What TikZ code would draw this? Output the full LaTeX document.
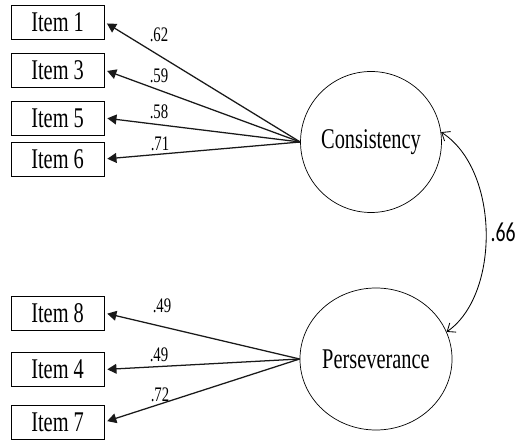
\documentclass[tikz,border=0pt]{standalone}
\usepackage{fontspec}
\setmainfont{Liberation Serif}
\newfontfamily\corrfont{Carlito}
\usepackage{graphicx}
\usepackage{tikz}
\usetikzlibrary{shapes.geometric, arrows.meta}
\newcommand{\stretchtxt}[1]{\scalebox{1}[1.4]{#1}}

\begin{document}
\begin{tikzpicture}[
    item/.style={draw, line width=0.6pt, minimum width=2.325cm, minimum height=0.85cm, inner sep=0pt, font=\fontsize{14.5}{16}\selectfont},
    factor/.style={draw, ellipse, line width=0.5pt, inner sep=0pt, font=\fontsize{14.5}{16}\selectfont},
    load/.style={-{Triangle[length=6.5pt,width=7pt]}, line width=0.9pt, black!90, shorten >=2pt},
    coef/.style={font=\fontsize{10.5}{12}\selectfont, inner sep=0pt}
]
    \useasboundingbox (0,0) rectangle (12.875,11);
    \node [item] (i1) at (1.44,10.45){\stretchtxt{Item 1}};
    \node [item] (i3) at (1.44,9.25){\stretchtxt{Item 3}};
    \node [item] (i5) at (1.44,8.05){\stretchtxt{Item 5}};
    \node [item] (i6) at (1.44,7.025){\stretchtxt{Item 6}};
    \node [item] (i8) at (1.44,3.175){\stretchtxt{Item 8}};
    \node [item] (i4) at (1.44,1.7625){\stretchtxt{Item 4}};
    \node [item] (i7) at (1.44,0.45){\stretchtxt{Item 7}};
    \node [factor, minimum width=3.225cm, minimum height=3.525cm] (cons) at (9.275,7.45){\stretchtxt{Consistency}};
    \node [factor, minimum width=3.4cm, minimum height=3.55cm] (pers) at (9.4,2.025){\stretchtxt{Perseverance}};
    \draw [load] (cons.west) -- (i1.east);
    \draw [load] (cons.west) -- (i3.east);
    \draw [load] (cons.west) -- (i5.east);
    \draw [load] (cons.west) -- (i6.east);
    \draw [load] (pers.west) -- (i8.east);
    \draw [load] (pers.west) -- (i4.east);
    \draw [load] (pers.west) -- (i7.east);
    \node [coef] (l1) at (3.975,10.125){\stretchtxt{.62}};
    \node [coef] (l3) at (3.975,9.1){\stretchtxt{.59}};
    \node [coef] (l5) at (3.975,8.2){\stretchtxt{.58}};
    \node [coef] (l6) at (4.0,7.4){\stretchtxt{.71}};
    \node [coef] (l8) at (4.05,3.35){\stretchtxt{.49}};
    \node [coef] (l4) at (3.975,2.125){\stretchtxt{.49}};
    \node [coef] (l7) at (4.0,1.125){\stretchtxt{.72}};
    \draw [{Straight Barb[length=5pt,width=8pt]}-{Straight Barb[length=5pt,width=8pt]}, line width=0.6pt] (cons.8) .. controls (12.5,6.75) and (12.5,3.625) .. (pers.21)
        node [pos=0.5, right, inner sep=3pt, font=\corrfont\fontsize{14}{16}\selectfont] (r){\stretchtxt{.66}};
\end{tikzpicture}
\end{document}
